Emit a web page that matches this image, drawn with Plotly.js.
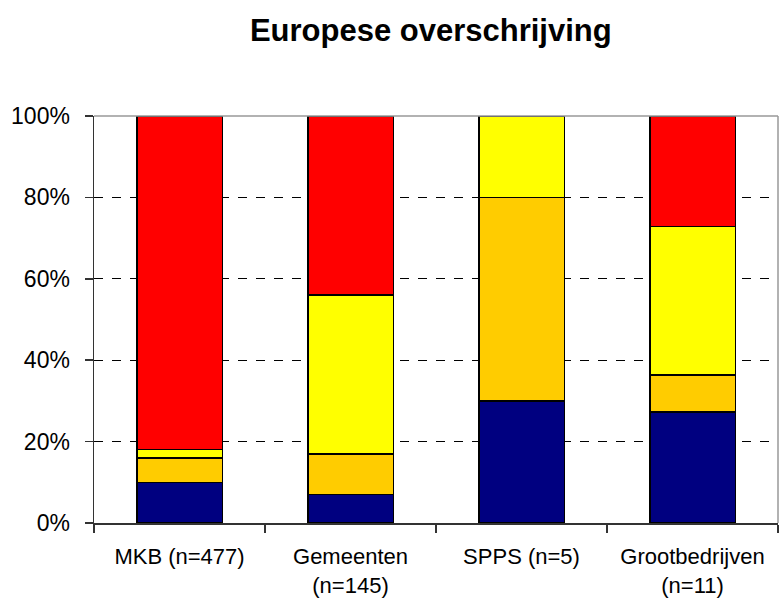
<!DOCTYPE html>
<html>
<head>
<meta charset="utf-8">
<script src="https://cdn.plot.ly/plotly-3.0.1.min.js"></script>
<style>html,body{margin:0;padding:0;background:#fff;}#chart{width:779px;height:604px;}</style>
</head>
<body>
<div id="chart"></div>
<script>
const categories = ["MKB (n=477)", "Gemeenten<br>(n=145)", "SPPS (n=5)", "Grootbedrijven<br>(n=11)"];
const seriesNames = ["Serie 1", "Serie 2", "Serie 3", "Serie 4"];
const serie1 = [10, 7, 30, 27.3];
const serie2 = [6, 10, 50, 9.1];
const serie3 = [2, 39, 20, 36.4];
const serie4 = [82, 44, 0, 27.2];
const colors = ["#000080", "#FFCC00", "#FFFF00", "#FF0000"];
const yTickVals = [0, 20, 40, 60, 80, 100];

const allSeries = [serie1, serie2, serie3, serie4];
const traces = allSeries.map((vals, i) => ({
  type: "bar",
  name: seriesNames[i],
  x: categories,
  y: vals,
  marker: {color: colors[i], line: {color: "#000000", width: 1.5}},
  hoverinfo: "x+y+name"
}));

const layout = {
  width: 779, height: 604,
  margin: {l: 94, r: 1, t: 116, b: 81},
  paper_bgcolor: "#fff", plot_bgcolor: "#fff",
  barmode: "stack",
  bargap: 0.5,
  showlegend: false,
  font: {family: "Liberation Sans, Arial, sans-serif", color: "#000"},
  title: {
    text: "<b>Europese overschrijving</b>",
    font: {size: 31, family: "Liberation Sans, Arial, sans-serif", color: "#000"},
    x: 0.553, xref: "container", xanchor: "center",
    y: 0.95, yref: "container", yanchor: "middle"
  },
  xaxis: {
    type: "category",
    showline: true, linecolor: "#333", linewidth: 1.5,
    ticks: "outside", tickson: "boundaries", ticklen: 8, tickcolor: "#333", tickwidth: 1.5,
    tickfont: {size: 22},
    ticklabelstandoff: 13,
    showgrid: false, zeroline: false
  },
  yaxis: {
    range: [0, 100],
    tickvals: yTickVals,
    ticktext: yTickVals.map(v => v + "%"),
    showline: true, linecolor: "#333", linewidth: 1.5,
    ticks: "outside", ticklen: 8, tickcolor: "#333", tickwidth: 1.5,
    tickfont: {size: 23},
    ticklabelstandoff: 10,
    showgrid: true, gridcolor: "#000", gridwidth: 1, griddash: "dash",
    zeroline: false
  },
  shapes: [
    {type: "line", xref: "paper", yref: "paper", x0: 0, x1: 1, y0: 1, y1: 1, line: {color: "#999", width: 1.5}},
    {type: "line", xref: "paper", yref: "paper", x0: 1, x1: 1, y0: 0, y1: 1, line: {color: "#999", width: 1.5}}
  ]
};

Plotly.newPlot("chart", traces, layout, {displayModeBar: false, staticPlot: true});
</script>
</body>
</html>
